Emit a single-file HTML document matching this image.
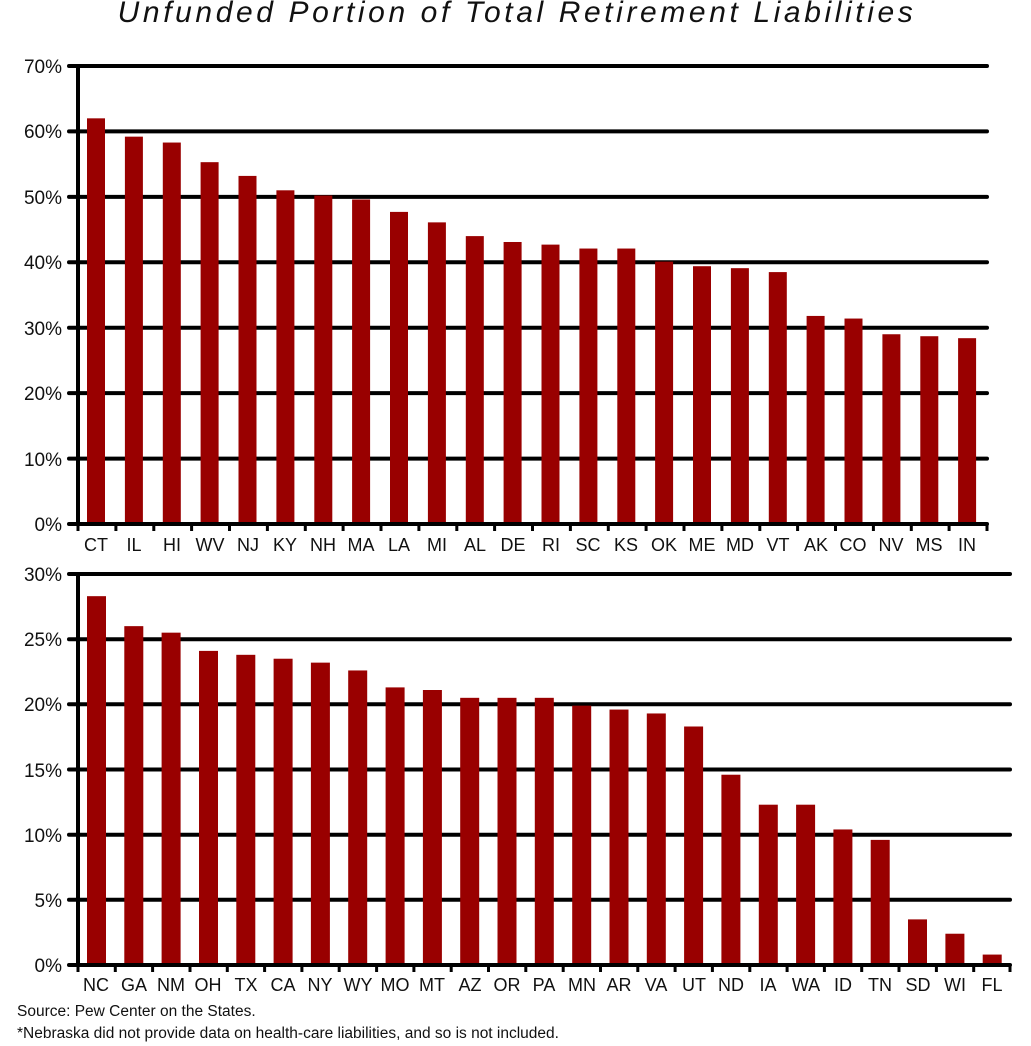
<!DOCTYPE html>
<html><head><style>body{margin:0;background:#fff}svg{display:block}text{font-family:"Liberation Sans",sans-serif;fill:#111}</style></head><body>
<svg width="1031" height="1046" viewBox="0 0 1031 1046" xmlns="http://www.w3.org/2000/svg">
<text x="517" y="22" text-anchor="middle" font-size="30" font-style="italic" letter-spacing="3.6">Unfunded Portion of Total Retirement Liabilities</text>
<g stroke="#000" stroke-width="4" stroke-linecap="round">
<line x1="69" y1="66" x2="987" y2="66"/><line x1="69" y1="131.4" x2="987" y2="131.4"/><line x1="69" y1="196.9" x2="987" y2="196.9"/><line x1="69" y1="262.3" x2="987" y2="262.3"/><line x1="69" y1="327.7" x2="987" y2="327.7"/><line x1="69" y1="393.1" x2="987" y2="393.1"/><line x1="69" y1="458.6" x2="987" y2="458.6"/>
<line x1="69" y1="574" x2="1010" y2="574"/><line x1="69" y1="639.2" x2="1010" y2="639.2"/><line x1="69" y1="704.3" x2="1010" y2="704.3"/><line x1="69" y1="769.5" x2="1010" y2="769.5"/><line x1="69" y1="834.7" x2="1010" y2="834.7"/><line x1="69" y1="899.8" x2="1010" y2="899.8"/>
</g>
<g fill="#990000" transform="translate(0,524) scale(1,-6.543)">
<rect x="87" width="18" height="62"/><rect x="124.9" width="18" height="59.2"/><rect x="162.8" width="18" height="58.3"/><rect x="200.6" width="18" height="55.3"/><rect x="238.5" width="18" height="53.2"/><rect x="276.4" width="18" height="51"/><rect x="314.3" width="18" height="50.2"/><rect x="352.1" width="18" height="49.6"/><rect x="390" width="18" height="47.7"/><rect x="427.9" width="18" height="46.1"/><rect x="465.8" width="18" height="44"/><rect x="503.6" width="18" height="43.1"/><rect x="541.5" width="18" height="42.7"/><rect x="579.4" width="18" height="42.1"/><rect x="617.3" width="18" height="42.1"/><rect x="655.1" width="18" height="40.1"/><rect x="693" width="18" height="39.4"/><rect x="730.9" width="18" height="39.1"/><rect x="768.8" width="18" height="38.5"/><rect x="806.6" width="18" height="31.8"/><rect x="844.5" width="18" height="31.4"/><rect x="882.4" width="18" height="29"/><rect x="920.3" width="18" height="28.7"/><rect x="958.1" width="18" height="28.4"/>
</g>
<g fill="#990000" transform="translate(0,965) scale(1,-13.033)">
<rect x="87" width="19" height="28.3"/><rect x="124.3" width="19" height="26"/><rect x="161.6" width="19" height="25.5"/><rect x="199" width="19" height="24.1"/><rect x="236.3" width="19" height="23.8"/><rect x="273.6" width="19" height="23.5"/><rect x="310.9" width="19" height="23.2"/><rect x="348.2" width="19" height="22.6"/><rect x="385.6" width="19" height="21.3"/><rect x="422.9" width="19" height="21.1"/><rect x="460.2" width="19" height="20.5"/><rect x="497.5" width="19" height="20.5"/><rect x="534.8" width="19" height="20.5"/><rect x="572.2" width="19" height="19.9"/><rect x="609.5" width="19" height="19.6"/><rect x="646.8" width="19" height="19.3"/><rect x="684.1" width="19" height="18.3"/><rect x="721.4" width="19" height="14.6"/><rect x="758.8" width="19" height="12.3"/><rect x="796.1" width="19" height="12.3"/><rect x="833.4" width="19" height="10.4"/><rect x="870.7" width="19" height="9.6"/><rect x="908" width="19" height="3.5"/><rect x="945.4" width="19" height="2.4"/><rect x="982.7" width="19" height="0.8"/>
</g>
<g stroke="#000" stroke-width="4" stroke-linecap="round">
<line x1="78" y1="66" x2="78" y2="524"/><line x1="69" y1="524" x2="987" y2="524"/>
<line x1="78" y1="574" x2="78" y2="965"/><line x1="69" y1="965" x2="1010" y2="965"/>
</g>
<g stroke="#000" stroke-width="3">
<path d="M78 524v7M115.9 524v7M153.8 524v7M191.6 524v7M229.5 524v7M267.4 524v7M305.3 524v7M343.1 524v7M381 524v7M418.9 524v7M456.8 524v7M494.6 524v7M532.5 524v7M570.4 524v7M608.3 524v7M646.1 524v7M684 524v7M721.9 524v7M759.8 524v7M797.6 524v7M835.5 524v7M873.4 524v7M911.3 524v7M949.1 524v7M987 524v7"/>
<path d="M78 965v7M115.3 965v7M152.6 965v7M190 965v7M227.3 965v7M264.6 965v7M301.9 965v7M339.2 965v7M376.6 965v7M413.9 965v7M451.2 965v7M488.5 965v7M525.8 965v7M563.2 965v7M600.5 965v7M637.8 965v7M675.1 965v7M712.4 965v7M749.8 965v7M787.1 965v7M824.4 965v7M861.7 965v7M899 965v7M936.4 965v7M973.7 965v7M1010 965v7"/>
</g>
<g font-size="19" text-anchor="end">
<text x="62" y="73">70%</text><text x="62" y="138">60%</text><text x="62" y="204">50%</text><text x="62" y="269">40%</text><text x="62" y="335">30%</text><text x="62" y="400">20%</text><text x="62" y="466">10%</text><text x="62" y="531">0%</text>
<text x="62" y="581">30%</text><text x="62" y="646">25%</text><text x="62" y="711">20%</text><text x="62" y="777">15%</text><text x="62" y="842">10%</text><text x="62" y="907">5%</text><text x="62" y="972">0%</text>
</g>
<g font-size="18" text-anchor="middle">
<text x="96" y="551">CT</text><text x="134" y="551">IL</text><text x="172" y="551">HI</text><text x="210" y="551">WV</text><text x="248" y="551">NJ</text><text x="285" y="551">KY</text><text x="323" y="551">NH</text><text x="361" y="551">MA</text><text x="399" y="551">LA</text><text x="437" y="551">MI</text><text x="475" y="551">AL</text><text x="513" y="551">DE</text><text x="551" y="551">RI</text><text x="588" y="551">SC</text><text x="626" y="551">KS</text><text x="664" y="551">OK</text><text x="702" y="551">ME</text><text x="740" y="551">MD</text><text x="778" y="551">VT</text><text x="816" y="551">AK</text><text x="853" y="551">CO</text><text x="891" y="551">NV</text><text x="929" y="551">MS</text><text x="967" y="551">IN</text>
<text x="96" y="991">NC</text><text x="134" y="991">GA</text><text x="171" y="991">NM</text><text x="208" y="991">OH</text><text x="246" y="991">TX</text><text x="283" y="991">CA</text><text x="320" y="991">NY</text><text x="358" y="991">WY</text><text x="395" y="991">MO</text><text x="432" y="991">MT</text><text x="470" y="991">AZ</text><text x="507" y="991">OR</text><text x="544" y="991">PA</text><text x="582" y="991">MN</text><text x="619" y="991">AR</text><text x="656" y="991">VA</text><text x="694" y="991">UT</text><text x="731" y="991">ND</text><text x="768" y="991">IA</text><text x="806" y="991">WA</text><text x="843" y="991">ID</text><text x="880" y="991">TN</text><text x="918" y="991">SD</text><text x="955" y="991">WI</text><text x="992" y="991">FL</text>
</g>
<text x="17" y="1016" font-size="15.5">Source: Pew Center on the States.</text>
<text x="17" y="1038" font-size="15.5">*Nebraska did not provide data on health-care liabilities, and so is not included.</text>
</svg>
</body></html>
